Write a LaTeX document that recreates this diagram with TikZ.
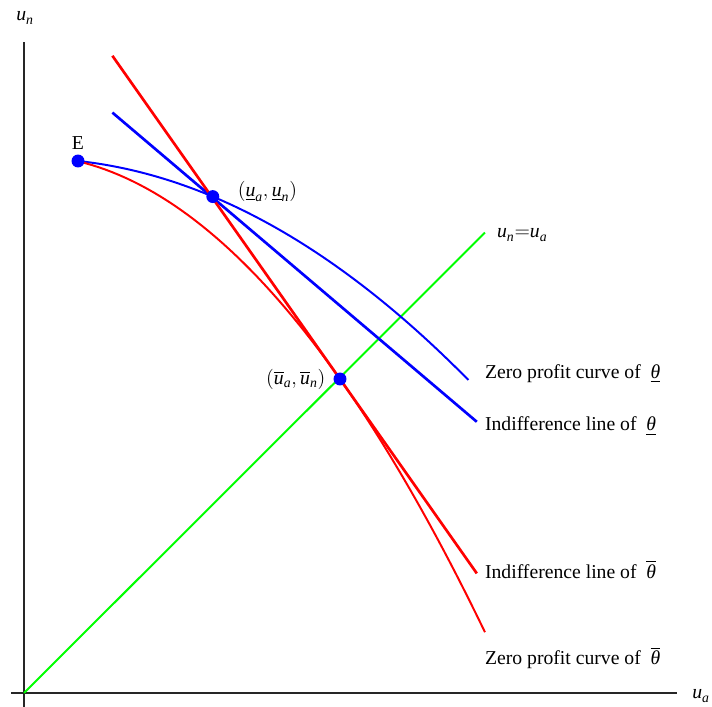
\documentclass[tikz,border=0pt]{standalone}
\usepackage{amsmath}
\usepackage{fontspec}
\setmainfont{Liberation Serif}
\usetikzlibrary{positioning}
\definecolor{typehigh}{HTML}{FF0000}
\definecolor{typelow}{HTML}{0000FF}
\definecolor{diagonal}{HTML}{00FF00}

\begin{document}
\begin{tikzpicture}[
  every node/.style={font=\fontsize{14}{16}\selectfont, text=black, inner sep=0pt},
  axis/.style={line width=0.8pt, black!85},
  indiff/.style={line width=1.9pt},
  zeroprofit/.style={line width=1.4pt},
  dot/.style={circle, fill=typelow, minimum size=9.2pt},
  curvelabel/.style={anchor=base west}
]
\useasboundingbox (-0.6,-0.35) rectangle (17.2,17.325);

% axes
\draw[axis] (0,-0.35) -- (0,16.28);
\draw[axis] (-0.325,0) -- (16.325,0);
\node[anchor=base west] (yname) at (-0.2,16.8) {$\textit{u}_{\textit{n}}$};
\node[anchor=base west] (xname) at (16.7,-0.15) {$\textit{u}_{\textit{a}}$};

% 45 degree line
\draw[zeroprofit, diagonal] (0,0) -- (11.525,11.51);
\node[anchor=base west] (diagname) at (11.82,11.375)
  {$\textit{u}_{\textit{n}}{=}\textit{u}_{\textit{a}}$};

% zero profit curves
\draw[zeroprofit, typelow] plot[domain=1.35:11.11, samples=60]
  (\x, {12.41 - 0.4207*(\x-4.72) - 0.04646*(\x-4.72)*(\x-4.72)});
\draw[zeroprofit, typehigh] plot[domain=1.35:11.525, samples=60]
  (\x, {7.85 - 1.4204*(\x-7.9) - 0.09*(\x-7.9)*(\x-7.9)});

% indifference lines
\coordinate (low-top) at (2.21,14.51);
\coordinate (low-end) at (11.32,6.78);
\coordinate (high-top) at (2.21,15.93);
\coordinate (high-end) at (11.32,2.99);
\draw[indiff, typelow] (low-top) -- (low-end);
\draw[indiff, typehigh] (high-top) -- (high-end);

% contract points
\node[dot] (E) at (1.35,13.3) {};
\node[dot] (P) at (4.72,12.41) {};
\node[dot] (Q) at (7.9,7.85) {};

\node[above=0.11cm of E] (Elabel) {E};
\node[right=0.45cm of P, yshift=3.5pt] (Plabel)
  {$(\underline{\textit{u}}_{\textit{a}},\underline{\textit{u}}_{\textit{n}})$};
\node[left=0.19cm of Q] (Qlabel)
  {$(\overline{\textit{u}}_{\textit{a}},\overline{\textit{u}}_{\textit{n}})$};

% curve names
\node[curvelabel] (zplow) at (11.52,7.87)
  {Zero profit curve of\enspace$\underline{\textit{θ}}$};
\node[curvelabel] (illow) at (11.52,6.55)
  {Indifference line of\enspace$\underline{\textit{θ}}$};
\node[curvelabel] (ilhigh) at (11.52,2.87)
  {Indifference line of\enspace$\overline{\textit{θ}}$};
\node[curvelabel] (zphigh) at (11.52,0.7)
  {Zero profit curve of\enspace$\overline{\textit{θ}}$};

\end{tikzpicture}
\end{document}
